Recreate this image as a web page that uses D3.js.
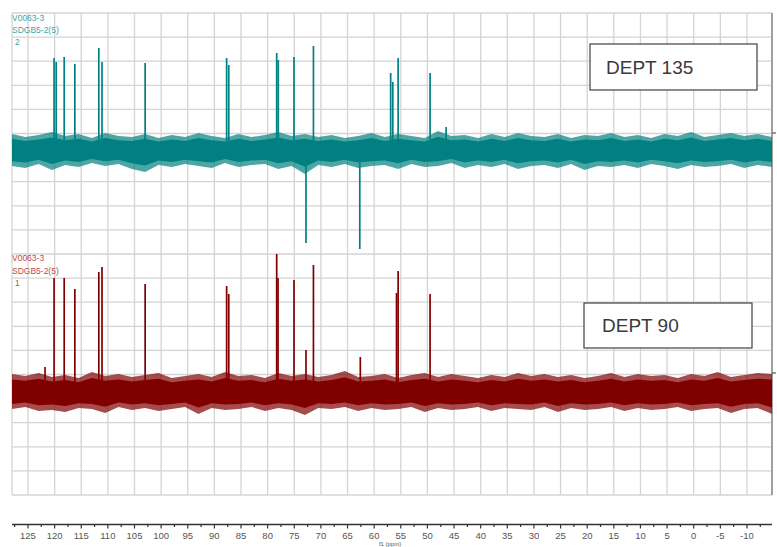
<!DOCTYPE html>
<html>
<head>
<meta charset="utf-8">
<script src="https://cdn.jsdelivr.net/npm/d3@7"></script>
<style>
  html, body { margin: 0; padding: 0; background: #fff; }
  svg { display: block; }
</style>
</head>
<body>
<div id="chart"></div>
<script>
  // axis ticks (ppm) and their labels
  const tickVals = [125, 120, 115, 110, 105, 100, 95, 90, 85, 80, 75, 70, 65, 60, 55, 50, 45, 40, 35, 30, 25, 20, 15, 10, 5, 0, -5, -10];
  const tickLabels = ["125", "120", "115", "110", "105", "100", "95", "90", "85", "80", "75", "70", "65", "60", "55", "50", "45", "40", "35", "30", "25", "20", "15", "10", "5", "0", "-5", "-10"];
  const minorVals = [127.5, 122.5, 117.5, 112.5, 107.5, 102.5, 97.5, 92.5, 87.5, 82.5, 77.5, 72.5, 67.5, 62.5, 57.5, 52.5, 47.5, 42.5, 37.5, 32.5, 27.5, 22.5, 17.5, 12.5, 7.5, 2.5, -2.5, -7.5, -12.5];

  // trace 2 (DEPT 135) peaks: ppm / height
  const teal_ppm = [120.1, 119.7, 118.2, 116.2, 111.7, 111.1, 103.0, 87.7, 87.3, 78.3, 78.0, 75.05, 72.8, 71.4, 62.7, 56.9, 56.5, 55.5, 49.5, 46.5];
  const teal_h   = [92, 88, 93, 86, 102, 88, 87, 92, 85, 97, 90, 93, -93, 104, -99, 77, 68, 92, 77, 23];

  // trace 1 (DEPT 90) peaks
  const red_ppm = [121.8, 120.1, 118.2, 116.2, 111.7, 111.1, 103.0, 87.7, 87.3, 78.3, 78.05, 75.05, 72.8, 71.4, 62.6, 55.8, 55.5, 49.5];
  const red_h   = [25, 114, 114, 103, 120, 125, 108, 106, 98, 138, 114, 112, 42, 127, 35, 99, 121, 98];

  // baseline noise envelope, sampled along ppm
  const noise_ppm = [128, 125.5, 123, 120.5, 118, 115.5, 113, 110.5, 108, 105.5, 103, 100.5, 98, 95.5, 93, 90.5, 88, 85.5, 83, 80.5, 78, 75.5, 73, 70.5, 68, 65.5, 63, 60.5, 58, 55.5, 53, 50.5, 48, 45.5, 43, 40.5, 38, 35.5, 33, 30.5, 28, 25.5, 23, 20.5, 18, 15.5, 13, 10.5, 8, 5.5, 3, 0.5, -2, -4.5, -7, -9.5, -12, -14.7];
  const teal_hi = [16, 13, 15, 18, 14, 16, 12, 17, 14, 13, 16, 12, 15, 13, 17, 14, 12, 16, 13, 15, 18, 14, 16, 13, 15, 12, 14, 17, 13, 16, 14, 12, 19, 14, 15, 12, 16, 13, 17, 14, 13, 16, 12, 15, 14, 17, 13, 15, 12, 16, 14, 18, 13, 15, 17, 14, 16, 13];
  const teal_lo = [16, 18, 14, 20, 15, 17, 13, 16, 14, 19, 22, 15, 17, 14, 16, 18, 13, 17, 15, 14, 19, 16, 24, 15, 17, 14, 18, 16, 15, 19, 14, 17, 16, 13, 18, 15, 17, 14, 19, 16, 15, 18, 14, 20, 16, 17, 15, 18, 14, 16, 19, 15, 17, 16, 14, 18, 15, 17];
  const red_hi = [18, 16, 19, 15, 17, 14, 20, 16, 18, 15, 17, 19, 14, 16, 18, 15, 20, 16, 17, 14, 19, 16, 18, 15, 17, 21, 15, 16, 18, 14, 17, 19, 15, 18, 16, 14, 17, 15, 19, 16, 18, 15, 17, 14, 16, 19, 15, 18, 16, 17, 14, 18, 16, 20, 15, 17, 19, 18];
  const red_lo = [17, 15, 19, 18, 20, 16, 17, 21, 15, 18, 16, 19, 17, 15, 22, 16, 18, 17, 15, 19, 16, 18, 23, 16, 17, 15, 19, 16, 18, 17, 15, 20, 16, 18, 17, 15, 19, 16, 17, 18, 15, 20, 16, 18, 17, 15, 19, 16, 18, 17, 15, 19, 17, 16, 21, 17, 16, 22];

  const W = 777, H = 547;
  const plot = {left: 12, right: 772, top: 13, bottom: 495};

  const svg = d3.select("#chart")
    .append("svg")
    .attr("width", W)
    .attr("height", H);

  const x = d3.scaleLinear().domain([128, -14.7]).range([plot.left, plot.right]);
  const yTop = d3.scaleLinear().domain([-100, 137]).range([250, 13]);
  const yBot = d3.scaleLinear().domain([-100, 137]).range([492, 255]);

  svg.append("clipPath").attr("id", "clip")
    .append("rect")
    .attr("x", plot.left).attr("y", plot.top)
    .attr("width", plot.right - plot.left).attr("height", plot.bottom - plot.top);

  // grid
  const grid = svg.append("g").attr("stroke", "#d4d4d4").attr("stroke-width", 1.3);
  const rows = d3.scaleLinear().domain([0, 20]).range([plot.top, plot.bottom]);
  grid.selectAll(".h").data(d3.range(21)).join("line")
    .attr("x1", plot.left).attr("x2", plot.right)
    .attr("y1", d => rows(d)).attr("y2", d => rows(d));
  grid.selectAll(".v").data(tickVals).join("line")
    .attr("x1", d => x(d)).attr("x2", d => x(d))
    .attr("y1", plot.top).attr("y2", plot.bottom);
  grid.append("line")
    .attr("x1", plot.left).attr("x2", plot.left)
    .attr("y1", plot.top).attr("y2", plot.bottom);

  // right frame with the two reference ticks
  svg.append("line")
    .attr("x1", plot.right).attr("x2", plot.right)
    .attr("y1", plot.top).attr("y2", plot.bottom)
    .attr("stroke", "#a0a0a0").attr("stroke-width", 2);
  [133, 373].forEach(yy => {
    svg.append("line")
      .attr("x1", plot.right).attr("x2", plot.right + 4)
      .attr("y1", yy).attr("y2", yy)
      .attr("stroke", "#555").attr("stroke-width", 1.2);
  });

  const traces = svg.append("g").attr("clip-path", "url(#clip)");

  function drawTrace(y, hi, lo, ppm, h, color) {
    const pts = noise_ppm.map((p, i) => ({p: p, hi: hi[i], lo: lo[i]}));
    const area = d3.area()
      .x(d => x(d.p))
      .y0(d => y(-d.lo))
      .y1(d => y(d.hi));
    traces.append("path").datum(pts)
      .attr("d", area)
      .attr("fill", color).attr("opacity", 0.7);
    const core = d3.area()
      .x(d => x(d.p))
      .y0(d => y(-d.lo * 0.7))
      .y1(d => y(d.hi * 0.7));
    traces.append("path").datum(pts)
      .attr("d", core)
      .attr("fill", color);
    traces.selectAll(null).data(ppm).join("line")
      .attr("x1", d => x(d)).attr("x2", d => x(d))
      .attr("y1", y(0))
      .attr("y2", (d, i) => y(h[i]))
      .attr("stroke", color)
      .attr("stroke-width", 1.7);
  }

  drawTrace(yTop, teal_hi, teal_lo, teal_ppm, teal_h, "#008080");
  drawTrace(yBot, red_hi, red_lo, red_ppm, red_h, "#800000");

  // trace labels
  const lab = (txt, xx, yy, col) => svg.append("text")
    .attr("x", xx).attr("y", yy)
    .attr("fill", col)
    .style("font-family", "Liberation Sans, Arial, sans-serif")
    .style("font-size", "8.5px")
    .text(txt);
  lab("V0063-3", 12, 21, "#3aa6a6");
  lab("SDGB5-2(5)", 12, 33, "#3aa6a6");
  lab("2", 15, 45, "#3aa6a6");
  lab("V0063-3", 12, 261, "#c04848");
  lab("SDGB5-2(5)", 12, 274, "#c04848");
  lab("1", 15, 286, "#c04848");

  // DEPT boxes
  const box = (txt, bx, by, bw, bh, tx, ty) => {
    svg.append("rect")
      .attr("x", bx).attr("y", by).attr("width", bw).attr("height", bh)
      .attr("fill", "#fff").attr("stroke", "#404040").attr("stroke-width", 1.2);
    svg.append("text")
      .attr("x", tx).attr("y", ty)
      .attr("fill", "#3a3a3a")
      .style("font-family", "Liberation Sans, Arial, sans-serif")
      .style("font-size", "19px")
      .text(txt);
  };
  box("DEPT 135", 590, 44, 167, 46, 606, 74);
  box("DEPT 90", 584, 303, 168, 45, 602, 332);

  // bottom ppm axis
  const axisY = 524.5;
  const ax = svg.append("g");
  ax.append("line")
    .attr("x1", plot.left).attr("x2", plot.right)
    .attr("y1", axisY).attr("y2", axisY)
    .attr("stroke", "#333").attr("stroke-width", 1.5);
  ax.selectAll(".maj").data(tickVals).join("line")
    .attr("x1", d => x(d)).attr("x2", d => x(d))
    .attr("y1", axisY).attr("y2", axisY + 4)
    .attr("stroke", "#333").attr("stroke-width", 1.2);
  ax.selectAll(".min").data(minorVals).join("line")
    .attr("x1", d => x(d)).attr("x2", d => x(d))
    .attr("y1", axisY).attr("y2", axisY + 2.5)
    .attr("stroke", "#333").attr("stroke-width", 1.2);
  ax.selectAll(".lbl").data(tickVals).join("text")
    .attr("x", d => x(d)).attr("y", 539)
    .attr("text-anchor", "middle")
    .attr("fill", "#555")
    .style("font-family", "Liberation Sans, Arial, sans-serif")
    .style("font-size", "9.5px")
    .text((d, i) => tickLabels[i]);
  ax.append("text")
    .attr("x", x(57)).attr("y", 546)
    .attr("text-anchor", "middle")
    .attr("fill", "#555")
    .style("font-family", "Liberation Sans, Arial, sans-serif")
    .style("font-size", "6px")
    .text("f1 (ppm)");
</script>
</body>
</html>
